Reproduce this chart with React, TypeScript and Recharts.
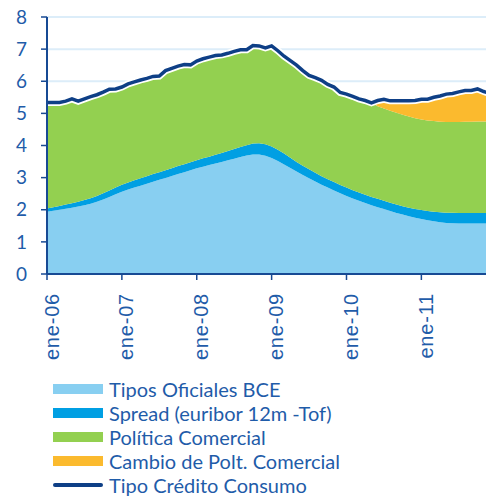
import { ComposedChart, Area, Line, XAxis, YAxis, CartesianGrid } from "recharts";

const MESES = ["ene", "feb", "mar", "abr", "may", "jun", "jul", "ago", "sep", "oct", "nov", "dic"];
const ANIOS = ["06", "07", "08", "09", "10", "11"];

// Tipos oficiales BCE
const tiposBCE = [
  1.94, 1.97, 2.0, 2.03, 2.06, 2.1, 2.14, 2.19, 2.25, 2.32, 2.4, 2.48,
  2.56, 2.63, 2.69, 2.75, 2.81, 2.87, 2.93, 2.99, 3.05, 3.11, 3.17, 3.23,
  3.29, 3.34, 3.39, 3.44, 3.49, 3.54, 3.59, 3.64, 3.69, 3.72, 3.72, 3.68,
  3.61, 3.52, 3.41, 3.3, 3.19, 3.08, 2.98, 2.88, 2.78, 2.69, 2.6, 2.51,
  2.43, 2.35, 2.28, 2.21, 2.14, 2.08, 2.02, 1.96, 1.9, 1.85, 1.8, 1.75,
  1.71, 1.67, 1.64, 1.61, 1.59, 1.58, 1.57, 1.57, 1.57, 1.57, 1.57, 1.57,
];

// Spread (euribor 12m - Tof)
const spread = [
  0.1, 0.11, 0.12, 0.13, 0.14, 0.15, 0.16, 0.17, 0.18, 0.19, 0.2, 0.21,
  0.22, 0.22, 0.23, 0.23, 0.23, 0.24, 0.24, 0.24, 0.24, 0.25, 0.25, 0.25,
  0.25, 0.26, 0.26, 0.27, 0.28, 0.29, 0.3, 0.31, 0.32, 0.34, 0.35, 0.36,
  0.36, 0.35, 0.34, 0.32, 0.3, 0.29, 0.28, 0.27, 0.26, 0.26, 0.26, 0.26,
  0.26, 0.26, 0.26, 0.26, 0.26, 0.26, 0.26, 0.26, 0.26, 0.26, 0.26, 0.27,
  0.28, 0.29, 0.3, 0.31, 0.32, 0.33, 0.33, 0.33, 0.33, 0.33, 0.33, 0.33,
];

// Política comercial
const politica = [
  3.3, 3.26, 3.22, 3.22, 3.25, 3.13, 3.15, 3.16, 3.15, 3.15, 3.15, 3.07,
  3.04, 3.07, 3.06, 3.06, 3.05, 3.04, 2.99, 3.1, 3.11, 3.11, 3.1, 3.03,
  3.09, 3.1, 3.1, 3.09, 3.05, 3.04, 3.04, 3.03, 2.97, 3.05, 3.03, 3.0,
  3.13, 3.08, 3.03, 3.02, 3.01, 2.96, 2.92, 2.96, 2.99, 2.95, 2.96, 2.88,
  2.91, 2.92, 2.91, 2.93, 2.93, 2.88, 2.87, 2.86, 2.86, 2.85, 2.84, 2.83,
  2.82, 2.82, 2.82, 2.82, 2.82, 2.82, 2.83, 2.84, 2.84, 2.85, 2.85, 2.85,
];

// Cambio de política comercial
const cambio = [
  0, 0, 0, 0, 0, 0, 0, 0, 0, 0, 0, 0,
  0, 0, 0, 0, 0, 0, 0, 0, 0, 0, 0, 0,
  0, 0, 0, 0, 0, 0, 0, 0, 0, 0, 0, 0,
  0, 0, 0, 0, 0, 0, 0, 0, 0, 0, 0, 0,
  0, 0, 0, 0, 0, 0.18, 0.29, 0.31, 0.37, 0.43, 0.49, 0.55,
  0.63, 0.66, 0.74, 0.8, 0.87, 0.89, 0.94, 0.97, 0.97, 1.01, 0.93, 0.87,
];

// Tipo crédito consumo
const credito = [
  5.34, 5.34, 5.34, 5.38, 5.45, 5.38, 5.45, 5.52, 5.58, 5.66, 5.75, 5.76,
  5.82, 5.92, 5.98, 6.04, 6.09, 6.15, 6.16, 6.33, 6.4, 6.47, 6.52, 6.51,
  6.63, 6.7, 6.75, 6.8, 6.82, 6.87, 6.93, 6.98, 6.98, 7.11, 7.1, 7.04,
  7.1, 6.95, 6.78, 6.64, 6.5, 6.33, 6.18, 6.11, 6.03, 5.9, 5.82, 5.65,
  5.6, 5.53, 5.45, 5.4, 5.33, 5.4, 5.44, 5.39, 5.39, 5.39, 5.39, 5.4,
  5.44, 5.44, 5.5, 5.54, 5.6, 5.62, 5.67, 5.71, 5.71, 5.76, 5.68, 5.62,
];

const yTicks = [0, 1, 2, 3, 4, 5, 6, 7, 8];

const SERIES = [
  { key: "bce", name: "Tipos Oficiales BCE", color: "#88cff1" },
  { key: "spread", name: "Spread (euribor 12m -Tof)", color: "#009fe3" },
  { key: "politica", name: "Política Comercial", color: "#93d050" },
  { key: "cambio", name: "Cambio de Polt. Comercial", color: "#fbba2e" },
];
const LINE = { key: "credito", name: "Tipo Crédito Consumo", color: "#0e3f86" };

const AXIS = "#174a94";
const TEXT = "#1f5ca9";

const meses = ANIOS.flatMap((a) => MESES.map((m) => `${m}-${a}`));
const data = meses.map((mes, i) => ({
  mes,
  bce: tiposBCE[i],
  spread: spread[i],
  politica: politica[i],
  cambio: cambio[i],
  credito: credito[i],
}));

function XTick({ x, y, payload }: any) {
  const tx = x + 11.5;
  const ty = y + 13;
  return (
    <text
      x={tx}
      y={ty}
      transform={`rotate(-90 ${tx} ${ty})`}
      textAnchor="end"
      fill={TEXT}
      fontSize={20}
      letterSpacing={0.8}
      fontFamily="Liberation Sans, Arial, sans-serif"
    >
      {payload.value}
    </text>
  );
}

export default function App() {
  return (
    <div
      style={{
        position: "absolute",
        left: 0,
        top: 0,
        width: 486,
        height: 497,
        overflow: "hidden",
        background: "#fff",
      }}
    >
      <ComposedChart width={490} height={370} data={data} margin={{ top: 17, right: 0, bottom: 0, left: 0 }}>
        <CartesianGrid vertical={false} stroke="#dcedf9" strokeWidth={2} />
        <XAxis
          dataKey="mes"
          interval={11}
          height={96}
          tickSize={6}
          tickMargin={0}
          tick={<XTick />}
          axisLine={{ stroke: AXIS, strokeWidth: 2 }}
          tickLine={{ stroke: AXIS, strokeWidth: 1.5 }}
        />
        <YAxis
          width={47}
          domain={[0, 8]}
          ticks={yTicks}
          interval={0}
          tickSize={6}
          tickMargin={14}
          axisLine={{ stroke: AXIS, strokeWidth: 2 }}
          tickLine={{ stroke: AXIS, strokeWidth: 1.5 }}
          tick={{ fill: TEXT, fontSize: 19, fontFamily: "Lato, sans-serif" }}
        />
        {SERIES.map((s) => (
          <Area
            key={s.key}
            dataKey={s.key}
            name={s.name}
            stackId="a"
            type="linear"
            fill={s.color}
            fillOpacity={1}
            stroke="none"
            isAnimationActive={false}
          />
        ))}
        <Line
          dataKey={LINE.key}
          type="linear"
          stroke="#ffffff"
          strokeWidth={7}
          dot={false}
          legendType="none"
          isAnimationActive={false}
        />
        <Line
          dataKey={LINE.key}
          name={LINE.name}
          type="linear"
          stroke={LINE.color}
          strokeWidth={3.5}
          dot={false}
          isAnimationActive={false}
        />
      </ComposedChart>
      <div style={{ position: "absolute", left: 53, top: 377, fontFamily: "Lato, sans-serif", fontSize: 20, color: TEXT }}>
        {SERIES.map((s) => (
          <div key={s.key} style={{ display: "flex", alignItems: "center", height: 24 }}>
            <div style={{ width: 50, height: 10, background: s.color, marginRight: 6 }} />
            <span>{s.name}</span>
          </div>
        ))}
        <div style={{ display: "flex", alignItems: "center", height: 24 }}>
          <div style={{ width: 50, height: 4, background: LINE.color, borderRadius: 2, marginRight: 6 }} />
          <span>{LINE.name}</span>
        </div>
      </div>
    </div>
  );
}
